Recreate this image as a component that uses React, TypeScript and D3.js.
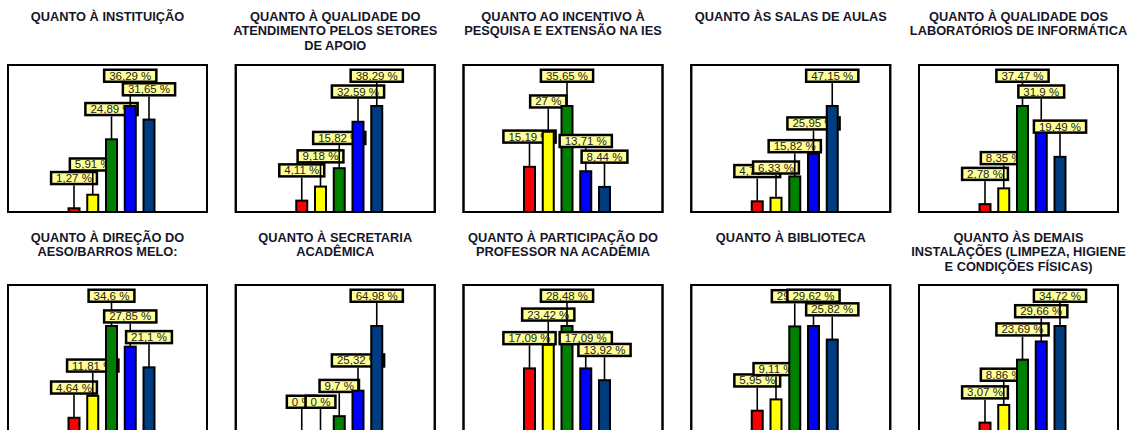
import React, { useEffect, useRef } from "react";
import * as d3 from "d3";

const categories = ["Péssimo", "Ruim", "Regular", "Bom", "Ótimo"];
const colors = ["#ff0000", "#ffff00", "#008000", "#0000ff", "#003c80"];

const titles: string[][] = [
  ["QUANTO À INSTITUIÇÃO"],
  ["QUANTO À QUALIDADE DO", "ATENDIMENTO PELOS SETORES", "DE APOIO"],
  ["QUANTO AO INCENTIVO À", "PESQUISA E EXTENSÃO NA IES"],
  ["QUANTO ÀS SALAS DE AULAS"],
  ["QUANTO À QUALIDADE DOS", "LABORATÓRIOS DE INFORMÁTICA"],
  ["QUANTO À DIREÇÃO DO", "AESO/BARROS MELO:"],
  ["QUANTO À SECRETARIA", "ACADÊMICA"],
  ["QUANTO À PARTICIPAÇÃO DO", "PROFESSOR NA ACADÊMIA"],
  ["QUANTO À BIBLIOTECA"],
  ["QUANTO ÀS DEMAIS", "INSTALAÇÕES (LIMPEZA, HIGIENE", "E CONDIÇÕES FÍSICAS)"],
];

const instituicao = [1.27, 5.91, 24.89, 36.29, 31.65];
const atendimento = [4.11, 9.18, 15.82, 32.59, 38.29];
const pesquisa = [15.19, 27, 35.65, 13.71, 8.44];
const salas = [4.75, 6.33, 15.82, 25.95, 47.15];
const laboratorios = [2.78, 8.35, 37.47, 31.9, 19.49];
const direcao = [4.64, 11.81, 34.6, 27.85, 21.1];
const secretaria = [0, 0, 9.7, 25.32, 64.98];
const professor = [17.09, 23.42, 28.48, 17.09, 13.92];
const biblioteca = [5.95, 9.11, 29.5, 29.62, 25.82];
const instalacoes = [3.07, 8.86, 23.69, 29.66, 34.72];

const panelValues = [
  instituicao, atendimento, pesquisa, salas, laboratorios,
  direcao, secretaria, professor, biblioteca, instalacoes,
];

const W = 1136;
const H = 430;

export default function App() {
  const ref = useRef<SVGSVGElement | null>(null);

  useEffect(() => {
    const svg = d3.select(ref.current);
    svg.selectAll("*").remove();

    const frameW = 199;
    const frameH = 147;
    const colStep = 227.75;
    const rowTops = [65, 285];
    const titleBase = [20.7, 241.7];
    const fmt = (v: number) => String(v).replace(".", ",") + " %";

    panelValues.forEach((vals, p) => {
      const row = Math.floor(p / 5);
      const col = p % 5;
      const left = 8 + col * colStep;
      const top = rowTops[row];
      const bottom = top + frameH;
      const g = svg.append("g");

      // title
      const t = g
        .append("text")
        .attr("x", left + frameW / 2)
        .attr("y", titleBase[row])
        .attr("text-anchor", "middle")
        .attr("font-family", "'Liberation Sans', Arial, sans-serif")
        .attr("font-weight", "bold")
        .attr("font-size", 12.8)
        .attr("fill", "#16162a");
      titles[p].forEach((line, i) => {
        t.append("tspan")
          .attr("x", left + frameW / 2)
          .attr("dy", i === 0 ? 0 : 14.5)
          .text(line);
      });

      // frame
      g.append("rect")
        .attr("x", left)
        .attr("y", top)
        .attr("width", frameW)
        .attr("height", frameH)
        .attr("fill", "#fff")
        .attr("stroke", "#000")
        .attr("stroke-width", 2);

      const x = d3
        .scalePoint<string>()
        .domain(categories)
        .range([left + 66, left + 141]);
      const maxV = d3.max(vals) as number;
      const y = d3
        .scaleLinear()
        .domain([0, maxV / (106 / frameH)])
        .range([bottom, top]);

      const barW = 11;
      vals.forEach((v, i) => {
        const cx = x(categories[i]) as number;
        const yt = y(v);
        g.append("rect")
          .attr("x", cx - barW / 2)
          .attr("y", yt)
          .attr("width", barW)
          .attr("height", Math.max(0, y(0) - yt))
          .attr("fill", colors[i])
          .attr("stroke", "#000")
          .attr("stroke-width", 2);

        const boxBottom = yt - 23;
        const boxH = 12;
        g.append("line")
          .attr("x1", cx)
          .attr("x2", cx)
          .attr("y1", yt)
          .attr("y2", boxBottom)
          .attr("stroke", "#000")
          .attr("stroke-width", 1.6);

        const lg = g.append("g");
        const rect = lg.append("rect");
        const txt = lg
          .append("text")
          .attr("x", cx)
          .attr("y", boxBottom - 1.25 - boxH / 2 + 4)
          .attr("text-anchor", "middle")
          .attr("font-family", "'Liberation Sans', Arial, sans-serif")
          .attr("font-size", 11.5)
          .attr("fill", "#222")
          .text(fmt(v));
        const tw = (txt.node() as SVGTextElement).getComputedTextLength();
        const bw = tw + 10;
        rect
          .attr("x", cx - bw / 2)
          .attr("y", boxBottom - 1.25 - boxH)
          .attr("width", bw)
          .attr("height", boxH)
          .attr("fill", "#ffff99")
          .attr("stroke", "#000")
          .attr("stroke-width", 2.5);
      });

      // frame outline on top
      g.append("rect")
        .attr("x", left)
        .attr("y", top)
        .attr("width", frameW)
        .attr("height", frameH)
        .attr("fill", "none")
        .attr("stroke", "#000")
        .attr("stroke-width", 2);
    });
  }, []);

  return (
    <svg
      ref={ref}
      width={W}
      height={H}
      style={{ position: "absolute", left: 0, top: 0, background: "#fff" }}
    />
  );
}
